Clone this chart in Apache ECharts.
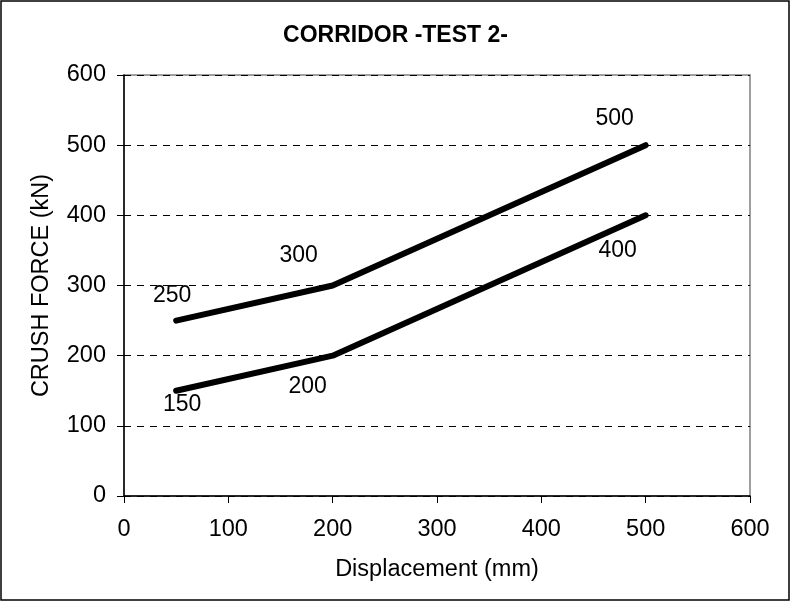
<!DOCTYPE html>
<html>
<head>
<meta charset="utf-8">
<script src="https://cdn.jsdelivr.net/npm/echarts@6/dist/echarts.min.js"></script>
<style>
  html, body { margin: 0; padding: 0; background: #fff; }
</style>
</head>
<body>
<div id="main" style="width: 791px; height: 602px"></div>
<script>
// data
const displacement = [50, 200, 500]
const upperForce = [250, 300, 500]
const lowerForce = [150, 200, 400]
const xTicks = [0, 100, 200, 300, 400, 500, 600]
const yTicks = [0, 100, 200, 300, 400, 500, 600]

// label offsets for each point (px), upper then lower
const upperOffsets = [[-4, -25], [-34, -30], [-31, -27]]
const lowerOffsets = [[6, 14], [-25, 31], [-28, 35]]

const font = 'Liberation Sans, Arial, sans-serif'

function build(ys, offsets) {
    return displacement.map((x, i) => ({
        value: [x, ys[i]],
        label: { offset: offsets[i] }
    }))
}

function lineSeries(name, ys, offsets) {
    return {
        name: name,
        type: 'line',
        data: build(ys, offsets),
        symbol: 'circle',
        symbolSize: 1,
        itemStyle: { color: '#000' },
        lineStyle: { color: '#000', width: 6, cap: 'round', join: 'round' },
        label: {
            show: true,
            position: 'inside',
            align: 'center',
            verticalAlign: 'middle',
            color: '#000',
            fontFamily: font,
            fontSize: 23,
            formatter: p => String(p.value[1])
        },
        animation: false
    }
}

const chart = echarts.init(document.getElementById('main'))
chart.setOption({
    animation: false,
    title: {
        text: 'CORRIDOR -TEST 2-',
        left: 'center',
        top: 19,
        textStyle: { fontFamily: font, fontSize: 23, fontWeight: 'bold', color: '#000' }
    },
    graphic: [{
        type: 'rect',
        shape: { x: 1, y: 1, width: 788, height: 599 },
        style: { fill: null, stroke: '#000', lineWidth: 1.5 }
    }],
    grid: {
        left: 124, right: 41, top: 75, bottom: 106,
        show: true,
        borderColor: '#808080',
        borderWidth: 1.5
    },
    xAxis: {
        type: 'value',
        min: xTicks[0],
        max: xTicks[xTicks.length - 1],
        interval: 100,
        name: 'Displacement (mm)',
        nameLocation: 'middle',
        nameGap: 62,
        nameTextStyle: { fontFamily: font, fontSize: 23.5, color: '#000' },
        axisLine: { lineStyle: { color: '#000', width: 1.5 } },
        axisTick: { show: true, inside: false, length: 7, lineStyle: { color: '#000' } },
        axisLabel: { margin: 22, fontFamily: font, fontSize: 23.5, color: '#000' },
        splitLine: { show: false }
    },
    yAxis: {
        type: 'value',
        min: yTicks[0],
        max: yTicks[yTicks.length - 1],
        interval: 100,
        name: 'CRUSH FORCE (kN)',
        nameLocation: 'middle',
        nameGap: 70,
        nameTextStyle: { fontFamily: font, fontSize: 23.5, color: '#000' },
        axisLine: { show: true, lineStyle: { color: '#000', width: 1.5 } },
        axisTick: { show: true, inside: false, length: 7, lineStyle: { color: '#000' } },
        axisLabel: { margin: 18, fontFamily: font, fontSize: 23.5, color: '#000' },
        splitLine: { show: true, lineStyle: { color: '#000', type: [7, 6], width: 1 } }
    },
    series: [
        lineSeries('upper', upperForce, upperOffsets),
        lineSeries('lower', lowerForce, lowerOffsets)
    ]
})
</script>
</body>
</html>
